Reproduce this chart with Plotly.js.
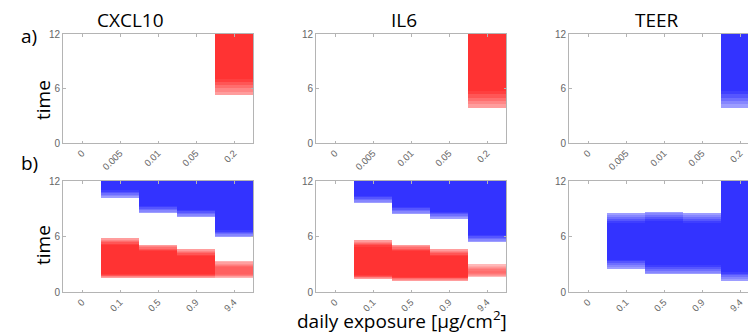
<!DOCTYPE html>
<html>
<head>
<meta charset="utf-8">
<script src="https://cdn.plot.ly/plotly-3.0.1.min.js"></script>
<style>html,body{margin:0;padding:0;background:#fff;overflow:hidden;}#chart{width:748px;height:333px;}</style>
</head>
<body>
<div id="chart"></div>
<script>
// ---- data ----
const catsA = ['0', '0.005', '0.01', '0.05', '0.2'];
const catsB = ['0', '0.1', '0.5', '0.9', '9.4'];

// row a) : time windows of response (start, end)
const cxcl10A_lo = [null, null, null, null, 5.3];
const cxcl10A_hi = [null, null, null, null, 12];
const il6A_lo    = [null, null, null, null, 3.9];
const il6A_hi    = [null, null, null, null, 12];
const teerA_lo   = [null, null, null, null, 3.9];
const teerA_hi   = [null, null, null, null, 12];

// row b)
const cxcl10B_blue_lo = [null, 10.2, 8.5, 8.1, 5.9];
const cxcl10B_blue_hi = [null, 12, 12, 12, 12];
const cxcl10B_red_lo  = [null, 1.5, 1.5, 1.5, 1.5];
const cxcl10B_red_hi  = [null, 5.8, 5.1, 4.6, 3.35];
const cxcl10B_red_str = [null, 1, 1, 1, 0.78];

const il6B_blue_lo = [null, 9.6, 8.4, 7.9, 5.4];
const il6B_blue_hi = [null, 12, 12, 12, 12];
const il6B_red_lo  = [null, 1.4, 1.2, 1.2, 1.6];
const il6B_red_hi  = [null, 5.6, 5.1, 4.6, 3.0];
const il6B_red_str = [null, 1, 1, 1, 0.72];

const teerB_blue_lo = [null, 2.5, 1.9, 1.9, 1.2];
const teerB_blue_hi = [null, 8.5, 8.7, 8.5, 12];

// ---- style ----
const RED = [255, 51, 51];
const BLUE = [51, 51, 255];
const W = 748, H = 333;
const colPx = [[63, 253], [316, 506], [569, 748]];
const rowPx = [[34, 143], [181, 292]];
const catPx = 38;

function mix(c, a) {
  const r = Math.round(255 + (c[0] - 255) * a);
  const g = Math.round(255 + (c[1] - 255) * a);
  const b = Math.round(255 + (c[2] - 255) * a);
  return 'rgb(' + r + ',' + g + ',' + b + ')';
}

function fadedBars(xa, ya, cats, lo, hi, color, fadeLo, fadeHi, str) {
  const traces = [];
  const N = 5;
  const strength = i => (str && str[i] != null ? str[i] : 1);
  function add(bases, heights, alphas) {
    traces.push({
      type: 'bar', xaxis: xa, yaxis: ya, x: cats, base: bases, y: heights,
      width: 1, hoverinfo: 'skip', showlegend: false,
      marker: {color: alphas.map(a => mix(color, a)), line: {width: 0}}
    });
  }
  const cb = [], ch = [], ca = [];
  lo.forEach((l, i) => {
    if (l == null) { cb.push(null); ch.push(null); ca.push(1); return; }
    const fl = fadeLo, fh = hi[i] >= 12 ? 0 : fadeHi;
    cb.push(l + fl); ch.push((hi[i] - fh) - (l + fl)); ca.push(strength(i));
  });
  add(cb, ch, ca);
  for (let k = 0; k < N; k++) {
    const a = 0.42 + 0.58 * (k + 0.5) / N;
    const lb = [], lh = [], ub = [], uh = [], la = [];
    lo.forEach((l, i) => {
      if (l == null) { lb.push(null); lh.push(null); ub.push(null); uh.push(null); la.push(1); return; }
      la.push(a * strength(i));
      lb.push(l + k * fadeLo / N); lh.push(fadeLo / N);
      if (hi[i] < 12 && fadeHi > 0) {
        ub.push(hi[i] - (k + 1) * fadeHi / N); uh.push(fadeHi / N);
      } else { ub.push(null); uh.push(null); }
    });
    add(lb, lh, la);
    if (uh.some(v => v != null)) add(ub, uh, la);
  }
  return traces;
}

let data = [];
data = data.concat(fadedBars('x', 'y', catsA, cxcl10A_lo, cxcl10A_hi, RED, 1.8, 0));
data = data.concat(fadedBars('x2', 'y2', catsA, il6A_lo, il6A_hi, RED, 1.8, 0));
data = data.concat(fadedBars('x3', 'y3', catsA, teerA_lo, teerA_hi, BLUE, 1.8, 0));
data = data.concat(fadedBars('x4', 'y4', catsB, cxcl10B_blue_lo, cxcl10B_blue_hi, BLUE, 0.8, 0));
data = data.concat(fadedBars('x4', 'y4', catsB, cxcl10B_red_lo, cxcl10B_red_hi, RED, 0.45, 0.7, cxcl10B_red_str));
data = data.concat(fadedBars('x5', 'y5', catsB, il6B_blue_lo, il6B_blue_hi, BLUE, 0.8, 0));
data = data.concat(fadedBars('x5', 'y5', catsB, il6B_red_lo, il6B_red_hi, RED, 0.45, 0.7, il6B_red_str));
data = data.concat(fadedBars('x6', 'y6', catsB, teerB_blue_lo, teerB_blue_hi, BLUE, 1.0, 1.0));

const layout = {
  width: W, height: H,
  margin: {l: 0, r: 0, t: 0, b: 0},
  paper_bgcolor: '#fff', plot_bgcolor: '#fff',
  barmode: 'overlay', bargap: 0,
  showlegend: false,
  font: {family: 'Liberation Sans, Arial, sans-serif', color: '#666'},
  annotations: []
};

for (let r = 0; r < 2; r++) {
  for (let c = 0; c < 3; c++) {
    const n = r * 3 + c + 1;
    const xs = n === 1 ? '' : String(n);
    const cats = r === 0 ? catsA : catsB;
    const xr = c === 2 ? [-0.5, -0.5 + (colPx[c][1] - colPx[c][0]) / catPx] : [-0.5, 4.5];
    layout['xaxis' + xs] = {
      domain: [colPx[c][0] / W, colPx[c][1] / W],
      anchor: 'y' + xs,
      type: 'category', categoryorder: 'array', categoryarray: cats,
      range: xr, fixedrange: true,
      showgrid: false, zeroline: false,
      showline: true, linecolor: '#b4b4b4', linewidth: 1, mirror: 'ticks',
      ticks: 'inside', ticklen: 2.5, tickcolor: '#b4b4b4',
      tickangle: -45, tickfont: {size: 9.5, color: '#666'}
    };
    layout['yaxis' + xs] = {
      domain: [1 - rowPx[r][1] / H, 1 - rowPx[r][0] / H],
      anchor: 'x' + xs,
      range: [0, 12], fixedrange: true,
      tickvals: [0, 6, 12], ticktext: ['0', '6', '12'],
      showgrid: false, zeroline: false,
      showline: true, linecolor: '#b4b4b4', linewidth: 1, mirror: c === 2 ? false : 'ticks',
      ticks: 'inside', ticklen: 2.5, tickcolor: '#b4b4b4',
      tickfont: {size: 10, color: '#666'}
    };
  }
}

const titles = [['CXCL10', 130], ['IL6', 404], ['TEER', 657]];
const tfont = {family: 'Open Sans, Noto Sans, sans-serif', size: 19, color: '#000'};
titles.forEach(t => layout.annotations.push({
  text: t[0], x: t[1] / W, y: 1 - 20 / H, xref: 'paper', yref: 'paper',
  xanchor: 'center', yanchor: 'middle', showarrow: false, font: tfont
}));
[['a)', 29, 36], ['b)', 29, 163]].forEach(t => layout.annotations.push({
  text: t[0], x: t[1] / W, y: 1 - t[2] / H, xref: 'paper', yref: 'paper',
  xanchor: 'center', yanchor: 'middle', showarrow: false, font: tfont
}));
[100, 245].forEach(yy => layout.annotations.push({
  text: 'time', x: 43 / W, y: 1 - yy / H, xref: 'paper', yref: 'paper',
  xanchor: 'center', yanchor: 'middle', textangle: -90, showarrow: false, font: tfont
}));
layout.annotations.push({
  text: 'daily exposure [µg/cm<sup>2</sup>]', x: 402 / W, y: 1 - 320 / H,
  xref: 'paper', yref: 'paper', xanchor: 'center', yanchor: 'middle',
  showarrow: false, font: tfont
});

Plotly.newPlot('chart', data, layout, {staticPlot: true, displayModeBar: false});
</script>
</body>
</html>
